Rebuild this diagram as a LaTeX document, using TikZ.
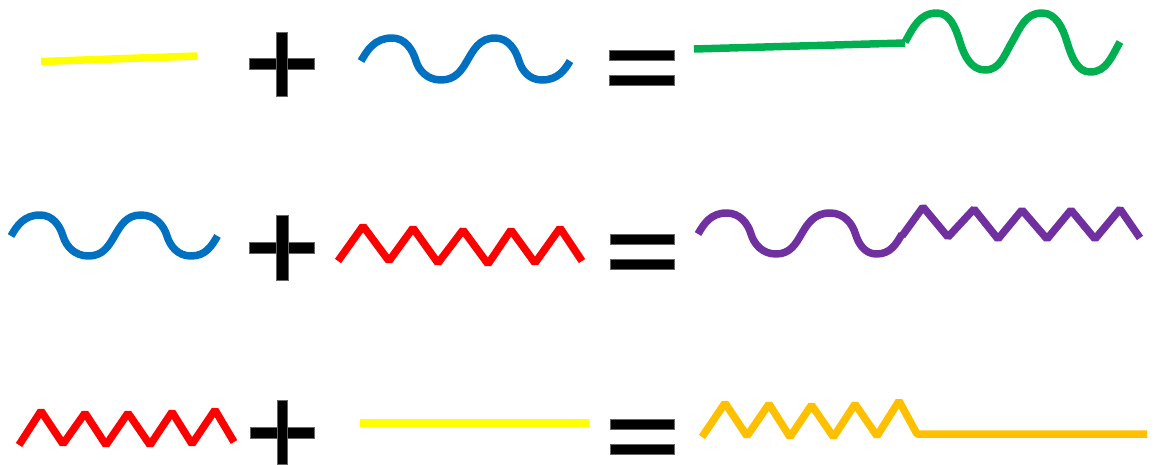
\documentclass[tikz,border=0pt]{standalone}
% peak lobe: gentle rise, steeper fall. #1 dx to top, #2 dx to end, #3 height
\newcommand\wpk[3]{.. controls +({0.29*#3},{-0.5*#3}) and +({-0.55*#1},0) .. ++(#1,{-#3})
  .. controls +({0.55*#2},0) and +({-0.15*#3},{-0.5*#3}) .. ++(#2,#3)}
% valley lobe: steeper fall, gentle rise. #1 dx to bottom, #2 dx to end, #3 depth
\newcommand\wvl[3]{.. controls +({0.15*#3},{0.5*#3}) and +({-0.55*#1},0) .. ++(#1,#3)
  .. controls +({0.55*#2},0) and +({-0.29*#3},{0.5*#3}) .. ++(#2,{-#3})}
\begin{document}
\begin{tikzpicture}[x=1pt,y=-1pt,
  stroke/.style={line width=7.5pt, line cap=butt},
  zig/.style={stroke, line join=bevel},
  wav/.style={stroke, line join=round},
  sym/.style={fill=black, draw=black!60, line width=0.4pt}]
\definecolor{cyel}{HTML}{FFFF00}
\definecolor{cblu}{HTML}{0070C0}
\definecolor{cgrn}{HTML}{00B050}
\definecolor{cred}{HTML}{FF0000}
\definecolor{cpur}{HTML}{7030A0}
\definecolor{corg}{HTML}{FFC000}
\useasboundingbox (0,0) rectangle (1154,464);

% ---------- row 1 ----------
\draw[stroke, cyel] (41,61.5) -- (197,56);
\fill[sym] (249,58.5) rectangle (314,69.5);
\fill[sym] (276,32) rectangle (287,96);
\draw[wav, cblu] (361,61) \wpk{31}{24}{23} \wvl{25}{26}{19} \wpk{28}{24}{23} \wvl{23}{28}{19};
\fill[sym] (609,50) rectangle (674,60);
\fill[sym] (609,75) rectangle (674,85);
\draw[stroke, cgrn] (694,49) -- (905,43);
\draw[wav, cgrn] (905,42) \wpk{32}{23}{29} \wvl{25}{27}{28} \wpk{30}{25}{29} \wvl{23}{30}{30};

% ---------- row 2 ----------
\draw[wav, cblu] (11,236) \wpk{29}{23}{21} \wvl{25.5}{26}{20} \wpk{26.5}{26}{21} \wvl{24}{26.5}{20};
\fill[sym] (249,242) rectangle (314,253);
\fill[sym] (276,215) rectangle (288,280);
\draw[zig, cred] (338,261) -- (363,226) -- (389,261) -- (413,228) -- (438,263)
                 -- (463,230) -- (488,264) -- (511,230) -- (535,263) -- (560,228) -- (582,261);
\fill[sym] (610,234) rectangle (674.5,244);
\fill[sym] (610,259) rectangle (674.5,269);
\draw[wav, cpur] (698,234) \wpk{28.5}{24.5}{21} \wvl{25}{25.5}{20} \wpk{28.5}{25.5}{21} \wvl{21}{25.5}{20};
\draw[zig, cpur] (902,236) -- (923,207) -- (948,237) -- (974,209) -- (998,239)
                 -- (1022,210) -- (1047,239) -- (1071,210) -- (1095,239) -- (1120,209) -- (1140,238);

% ---------- row 3 ----------
\draw[zig, cred] (19,445) -- (41,411) -- (63,444) -- (85,413) -- (106,445)
                 -- (128,413) -- (150,445) -- (172,412) -- (192,444) -- (215,410) -- (234,442);
\fill[sym] (250,427) rectangle (314,438);
\fill[sym] (277,400.5) rectangle (287,464.5);
\draw[stroke, cyel] (360,423) -- (589,423);
\fill[sym] (610,419.5) rectangle (674.5,429.5);
\fill[sym] (610,444) rectangle (674.5,454);
\draw[zig, corg] (702,437) -- (725,403) -- (747,436) -- (769,404) -- (790,437)
                 -- (811.5,405) -- (833.5,437) -- (855,404) -- (877,436) -- (899,401)
                 -- (917,434) -- (1147,434);
\end{tikzpicture}
\end{document}
